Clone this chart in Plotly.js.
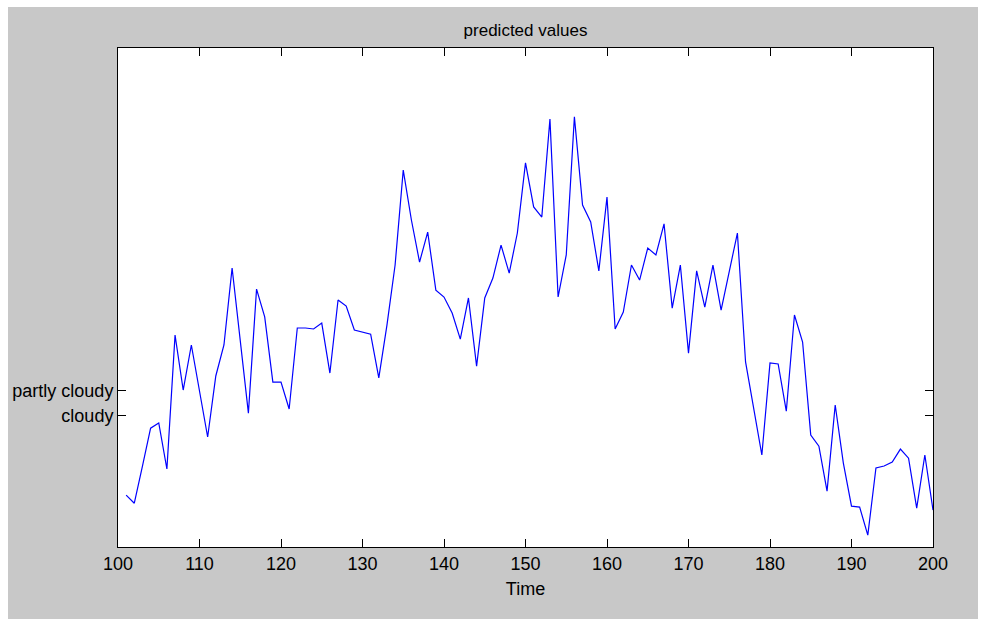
<!DOCTYPE html>
<html>
<head>
<meta charset="utf-8">
<script src="https://cdn.plot.ly/plotly-3.0.1.min.js"></script>
<style>
html,body{margin:0;padding:0;background:#ffffff;}
#chart{position:absolute;left:8px;top:7px;width:970px;height:612px;}
</style>
</head>
<body>
<div id="chart"></div>
<script>
// Time steps
const time = [];
for (let t = 101; t <= 200; t++) time.push(t);

// Predicted values (cloudy = 1, partly cloudy = 2)
const predicted = [
  -2.24, -2.57, -1.06, 0.48, 0.69, -1.18, 4.26, 2.03, 3.86, 2.03,
  0.12, 2.60, 3.86, 6.99, 4.06, 1.09, 6.13, 5.00, 2.35, 2.35,
  1.26, 4.55, 4.55, 4.51, 4.75, 2.72, 5.69, 5.44, 4.47, 4.39,
  4.30, 2.52, 4.67, 7.11, 10.97, 8.94, 7.23, 8.45, 6.09, 5.81,
  5.16, 4.10, 5.77, 3.00, 5.77, 6.58, 7.92, 6.78, 8.41, 11.26,
  9.47, 9.06, 13.04, 5.81, 7.52, 13.13, 9.55, 8.86, 6.87, 9.87,
  4.51, 5.20, 7.11, 6.50, 7.80, 7.52, 8.78, 5.36, 7.11, 3.53,
  6.87, 5.40, 7.11, 5.28, 6.78, 8.41, 3.17, 1.22, -0.61, 3.13,
  3.09, 1.17, 5.08, 3.98, 0.20, -0.25, -2.08, 1.42, -0.94, -2.69,
  -2.73, -3.87, -1.14, -1.06, -0.90, -0.37, -0.74, -2.77, -0.61, -2.85
];

// Axis ticks
const xTickVals = [100, 110, 120, 130, 140, 150, 160, 170, 180, 190, 200];
const yTickVals = [1, 2];
const yTickText = ['cloudy', 'partly cloudy'];

const trace = {
  x: time,
  y: predicted,
  type: 'scatter',
  mode: 'lines',
  line: {color: '#0000ff', width: 1.2},
  hoverinfo: 'skip'
};

const fontFam = '"Liberation Sans", Arial, sans-serif';

const layout = {
  width: 970,
  height: 612,
  paper_bgcolor: '#c8c8c8',
  plot_bgcolor: '#ffffff',
  margin: {l: 110, r: 45, t: 41, b: 72, pad: 0},
  showlegend: false,
  title: {
    text: 'predicted values',
    font: {family: fontFam, size: 17, color: '#000000'},
    x: 0.5, xref: 'paper', xanchor: 'center',
    y: 0.962, yref: 'container', yanchor: 'middle'
  },
  xaxis: {
    range: [100, 200],
    tickmode: 'array',
    tickvals: xTickVals,
    ticks: 'inside',
    ticklen: 8,
    tickcolor: '#000000',
    showline: true,
    linecolor: '#000000',
    linewidth: 1,
    mirror: 'ticks',
    showgrid: false,
    zeroline: false,
    tickfont: {family: fontFam, size: 18, color: '#000000'},
    title: {text: 'Time', font: {family: fontFam, size: 18, color: '#000000'}, standoff: 9},
    automargin: false
  },
  yaxis: {
    range: [-4.35, 15.93],
    tickmode: 'array',
    tickvals: yTickVals,
    ticktext: yTickText,
    ticks: 'inside',
    ticklen: 8,
    tickcolor: '#000000',
    showline: true,
    linecolor: '#000000',
    linewidth: 1,
    mirror: 'ticks',
    showgrid: false,
    zeroline: false,
    tickfont: {family: fontFam, size: 18, color: '#000000'},
    automargin: false
  }
};

Plotly.newPlot('chart', [trace], layout, {staticPlot: true, displayModeBar: false});
</script>
</body>
</html>
